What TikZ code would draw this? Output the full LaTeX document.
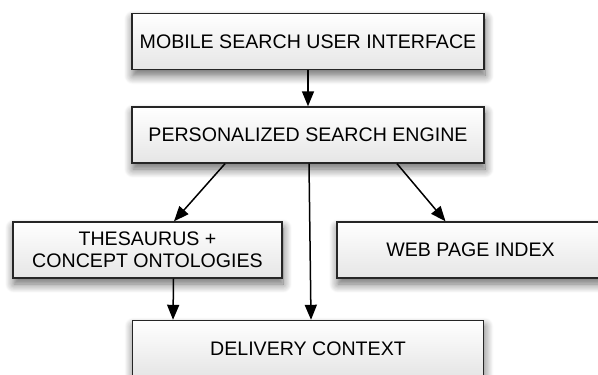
\documentclass[tikz,border=0pt]{standalone}
\usepackage{fontspec}
\setmainfont{Liberation Sans}
\usetikzlibrary{arrows.meta,shadows.blur}

\tikzset{
  block/.style={draw=black!85, line width=0.7pt, minimum height=28pt,
    top color=white, bottom color=black!10, align=center,
    font=\fontsize{9.8}{10.8}\selectfont,
    blur shadow={shadow xshift=0.5pt, shadow yshift=-3pt,
      shadow blur radius=4.5pt, shadow blur steps=12, shadow opacity=60}},
  arr/.style={-{Triangle[length=7.5pt,width=6pt]}, line width=0.75pt}
}

\begin{document}
\begin{tikzpicture}[x=0.5pt,y=-0.5pt]
\useasboundingbox (0,0) rectangle (598,374);
\node[block, minimum width=176pt] (mobileui) at (308,41.5){MOBILE SEARCH USER INTERFACE};
\node[block, minimum width=176pt] (engine) at (308,135){PERSONALIZED SEARCH ENGINE};
\node[block, minimum width=134.5pt] (thesaurus) at (147.5,250){THESAURUS +\\CONCEPT ONTOLOGIES};
\node[block, minimum width=133.5pt] (webindex) at (470.5,250){WEB PAGE INDEX};
\node[block, minimum width=175.5pt] (delivery) at (308,348.5){DELIVERY CONTEXT};
\draw[arr](mobileui) -- (engine);
\draw[arr]([xshift=-41.5pt]engine.south) -- ([xshift=13.25pt]thesaurus.north);
\draw[arr]([xshift=44.5pt]engine.south) -- ([xshift=-12.5pt]webindex.north);
\draw[arr]([xshift=0.5pt]engine.south) -- ([xshift=1.5pt]delivery.north);
\draw[arr]([xshift=13pt]thesaurus.south) -- ([xshift=-67.5pt]delivery.north);
\end{tikzpicture}
\end{document}
